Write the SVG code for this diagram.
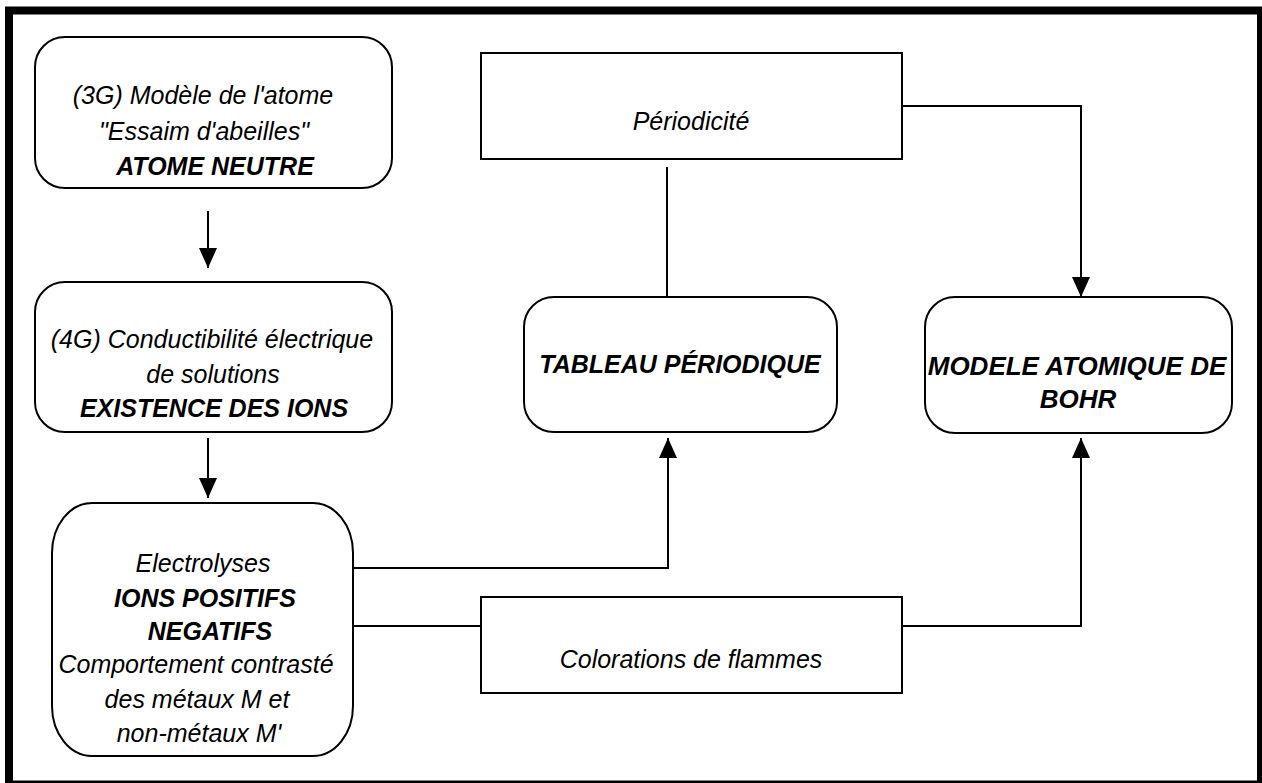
<svg xmlns="http://www.w3.org/2000/svg" width="1262" height="783" viewBox="0 0 1262 783">
<defs>
<style>
.box{fill:#fff;stroke:#000;stroke-width:2}
.ln{fill:none;stroke:#000;stroke-width:2}
.t{font-family:"Liberation Sans",Arial,sans-serif;font-size:25px;font-style:italic;text-anchor:middle;fill:#000}
.b{font-weight:bold}
.big{font-size:26px}
</style>
<marker id="ah" viewBox="0 0 20 18" refX="20" refY="9" markerWidth="20" markerHeight="18" markerUnits="userSpaceOnUse" orient="auto">
<path d="M0,0 L20,9 L0,18 Z" fill="#000"/>
</marker>
</defs>
<rect x="0" y="0" width="1262" height="783" fill="#fff"/>
<rect x="9" y="10.5" width="1252" height="774" fill="none" stroke="#000" stroke-width="8"/>
<g id="connectors">
<line class="ln" x1="208" y1="211" x2="208" y2="268" marker-end="url(#ah)"/>
<line class="ln" x1="208" y1="438" x2="208" y2="498" marker-end="url(#ah)"/>
<line class="ln" x1="667" y1="167" x2="667" y2="297"/>
<polyline class="ln" points="902,106 1081,106 1081,297" marker-end="url(#ah)"/>
<polyline class="ln" points="353,568 668,568 668,438" marker-end="url(#ah)"/>
<line class="ln" x1="353" y1="626" x2="481" y2="626"/>
<polyline class="ln" points="902,626 1081,626 1081,438" marker-end="url(#ah)"/>
</g>
<g id="n1">
<rect class="box" x="35" y="37" width="357" height="151" rx="30" ry="30"/>
<text class="t" x="203" y="104">(3G) Modèle de l'atome</text>
<text class="t" x="204" y="140">"Essaim d'abeilles"</text>
<text class="t b" x="215" y="175">ATOME NEUTRE</text>
</g>
<g id="n2">
<rect class="box" x="35" y="282" width="357" height="150" rx="30" ry="30"/>
<text class="t" x="212" y="348">(4G) Conductibilité électrique</text>
<text class="t" x="213" y="383">de solutions</text>
<text class="t b" x="214" y="417">EXISTENCE DES IONS</text>
</g>
<g id="n3">
<rect class="box" x="52" y="503" width="301" height="253" rx="40" ry="50"/>
<text class="t" x="203" y="572">Electrolyses</text>
<text class="t b" x="205" y="607">IONS POSITIFS</text>
<text class="t b" x="210" y="640">NEGATIFS</text>
<text class="t" x="196" y="673">Comportement contrasté</text>
<text class="t" x="197" y="708">des métaux M et</text>
<text class="t" x="199" y="742">non-métaux M'</text>
</g>
<g id="periodicite">
<rect class="box" x="481" y="53" width="421" height="106"/>
<text class="t" x="691" y="130">Périodicité</text>
</g>
<g id="tableau">
<rect class="box" x="524" y="297" width="313" height="135" rx="30" ry="30"/>
<text class="t b" x="680" y="373">TABLEAU PÉRIODIQUE</text>
</g>
<g id="bohr">
<rect class="box" x="925" y="297" width="307" height="136" rx="30" ry="30"/>
<text class="t b big" x="1077" y="375">MODELE ATOMIQUE DE</text>
<text class="t b big" x="1078" y="408">BOHR</text>
</g>
<g id="colorations">
<rect class="box" x="481" y="597" width="421" height="96"/>
<text class="t" x="691" y="668">Colorations de flammes</text>
</g>
</svg>
